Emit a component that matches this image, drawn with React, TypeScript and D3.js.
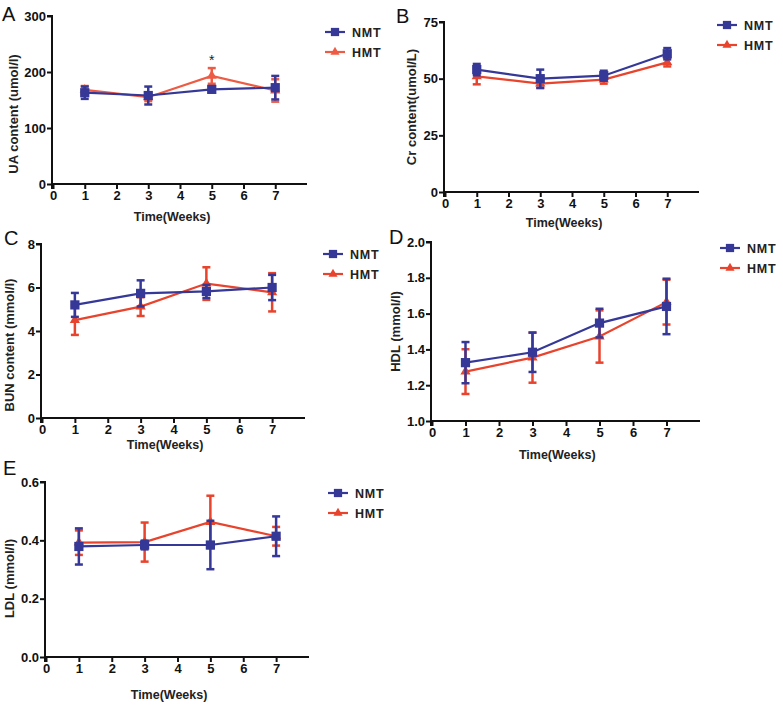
import * as React from 'react'
import * as d3 from 'd3'

// weeks sampled
const weeks = [1, 3, 5, 7]
const xTicks = [0, 1, 2, 3, 4, 5, 6, 7]

// A: uric acid
const uaNmt = [163, 158, 169, 172]
const uaNmtSd = [11, 16, 5, 21]
const uaHmt = [168, 155, 193, 167]
const uaHmtSd = [7, 7, 14, 20]
const uaTicks = [0, 100, 200, 300]

// B: creatinine
const crNmt = [54, 50, 51.3, 61]
const crNmtSd = [2.5, 4, 2.2, 2.5]
const crHmt = [51, 47.8, 49.6, 57.2]
const crHmtSd = [3.5, 2, 1.8, 1.8]
const crTicks = [0, 25, 50, 75]

// C: blood urea nitrogen
const bunNmt = [5.2, 5.73, 5.82, 6.0]
const bunNmtSd = [0.55, 0.6, 0.3, 0.58]
const bunHmt = [4.5, 5.12, 6.18, 5.78]
const bunHmtSd = [0.68, 0.43, 0.75, 0.88]
const bunTicks = [0, 2, 4, 6, 8]

// D: HDL
const hdlNmt = [1.326, 1.384, 1.547, 1.64]
const hdlNmtSd = [0.115, 0.11, 0.08, 0.155]
const hdlHmt = [1.276, 1.354, 1.472, 1.664]
const hdlHmtSd = [0.125, 0.14, 0.146, 0.125]
const hdlTicks = [1.0, 1.2, 1.4, 1.6, 1.8, 2.0]

// E: LDL
const ldlNmt = [0.379, 0.384, 0.384, 0.414]
const ldlNmtSd = [0.062, 0.015, 0.083, 0.068]
const ldlHmt = [0.392, 0.394, 0.463, 0.414]
const ldlHmtSd = [0.042, 0.067, 0.09, 0.032]
const ldlTicks = [0, 0.2, 0.4, 0.6]

const groups = ['NMT', 'HMT']
const BLUE = '#353896'
const RED = '#e8432c'

interface PanelCfg {
  letter: string
  yLabel: string
  ticks: number[]
  fmt: (v: number) => string
  nmt: number[]
  nmtSd: number[]
  hmt: number[]
  hmtSd: number[]
  x0: number
  x1: number
  yTop: number
  yBot: number
  letterX: number
  letterY: number
  yLabelX: number
  yLabelDy: number
  titleY: number
  legX: number
  legY: number
  star?: number
  redColor?: string
}

const panels: PanelCfg[] = [
  {
    letter: 'A', yLabel: 'UA content (umol/l)', ticks: uaTicks, fmt: d3.format('d'),
    nmt: uaNmt, nmtSd: uaNmtSd, hmt: uaHmt, hmtSd: uaHmtSd,
    x0: 53, x1: 307, yTop: 16, yBot: 184, letterX: 2, letterY: 21, yLabelX: 13, yLabelDy: 14, titleY: 221,
    legX: 325, legY: 32, star: 2, redColor: '#ee5b45',
  },
  {
    letter: 'B', yLabel: 'Cr content(umol/L)', ticks: crTicks, fmt: d3.format('d'),
    nmt: crNmt, nmtSd: crNmtSd, hmt: crHmt, hmtSd: crHmtSd,
    x0: 445, x1: 699, yTop: 22, yBot: 192, letterX: 396, letterY: 23, yLabelX: 411, yLabelDy: 0, titleY: 227,
    legX: 717, legY: 25,
  },
  {
    letter: 'C', yLabel: 'BUN content (mmol/l)', ticks: bunTicks, fmt: d3.format('d'),
    nmt: bunNmt, nmtSd: bunNmtSd, hmt: bunHmt, hmtSd: bunHmtSd,
    x0: 42, x1: 305, yTop: 244, yBot: 418, letterX: 4, letterY: 245, yLabelX: 9, yLabelDy: 14, titleY: 449,
    legX: 323, legY: 254,
  },
  {
    letter: 'D', yLabel: 'HDL (mmol/l)', ticks: hdlTicks, fmt: d3.format('.1f'),
    nmt: hdlNmt, nmtSd: hdlNmtSd, hmt: hdlHmt, hmtSd: hdlHmtSd,
    x0: 432, x1: 700, yTop: 242, yBot: 421, letterX: 389, letterY: 244, yLabelX: 395, yLabelDy: 0, titleY: 459,
    legX: 720, legY: 248,
  },
  {
    letter: 'E', yLabel: 'LDL (mmol/l)', ticks: ldlTicks, fmt: d3.format('.1f'),
    nmt: ldlNmt, nmtSd: ldlNmtSd, hmt: ldlHmt, hmtSd: ldlHmtSd,
    x0: 46, x1: 309, yTop: 482, yBot: 657, letterX: 3, letterY: 475, yLabelX: 9, yLabelDy: 9, titleY: 699,
    legX: 328, legY: 493,
  },
]

const FONT = '"Liberation Sans", Arial, sans-serif'

function drawPanel(svg: d3.Selection<SVGSVGElement, unknown, null, undefined>, p: PanelCfg) {
  const x = d3.scaleLinear().domain([0, 8]).range([p.x0, p.x1])
  const ext = d3.extent(p.ticks) as [number, number]
  const y = d3.scaleLinear().domain(ext).range([p.yBot, p.yTop])
  const g = svg.append('g')
  const red = p.redColor || RED

  // x axis
  const xa = g.append('g')
    .attr('transform', `translate(0,${p.yBot})`)
    .call(d3.axisBottom(x).tickValues(xTicks).tickSize(5).tickPadding(2).tickFormat(d3.format('d')))
  // y axis
  const ya = g.append('g')
    .attr('transform', `translate(${p.x0 - 1},0)`)
    .call(d3.axisLeft(y).tickValues(p.ticks).tickSize(5).tickPadding(1).tickFormat(p.fmt as any))
  for (const a of [xa, ya]) {
    a.attr('font-family', FONT).attr('font-size', 13).attr('font-weight', 'bold')
    a.select('.domain').attr('stroke', '#111').attr('stroke-width', 2)
    a.selectAll('.tick line').attr('stroke', '#111').attr('stroke-width', 2)
    a.selectAll('.tick text').attr('fill', '#111')
  }
  ya.select('.domain').attr('d', `M-5,${p.yTop}H0V${p.yBot}`)
  xa.select('.domain').attr('d', `M${p.x0 - 1},5V0H${p.x1}`)

  // labels
  g.append('text')
    .attr('x', p.letterX).attr('y', p.letterY)
    .style('font-family', FONT).style('font-size', '20px').attr('fill', '#111')
    .text(p.letter)
  g.append('text')
    .attr('x', (p.x0 + x(7)) / 2 + 8).attr('y', p.titleY)
    .attr('text-anchor', 'middle')
    .style('font-family', FONT).style('font-size', '12.5px').style('font-weight', 'bold').attr('fill', '#222')
    .text('Time(Weeks)')
  g.append('text')
    .attr('transform', `translate(${p.yLabelX},${(p.yTop + p.yBot) / 2 + p.yLabelDy}) rotate(-90)`)
    .attr('text-anchor', 'middle').attr('dy', '0.35em')
    .style('font-family', FONT).style('font-size', '13px').style('font-weight', 'bold').attr('fill', '#222')
    .text(p.yLabel)

  const series = [
    { name: groups[0], mean: p.nmt, sd: p.nmtSd, color: BLUE, shape: d3.symbolSquare, size: 85 },
    { name: groups[1], mean: p.hmt, sd: p.hmtSd, color: red, shape: d3.symbolTriangle, size: 45 },
  ]
  const line = d3.line<number>().x((_, i) => x(weeks[i])).y(d => y(d))

  // red first then blue on top
  for (const s of [series[1], series[0]]) {
    const sg = g.append('g')
    sg.append('path').datum(s.mean).attr('d', line)
      .attr('fill', 'none').attr('stroke', s.color).attr('stroke-width', 2.2)
    s.mean.forEach((m, i) => {
      const cx = x(weeks[i])
      const lo = y(m - s.sd[i])
      const hi = y(m + s.sd[i])
      sg.append('line').attr('x1', cx).attr('x2', cx).attr('y1', lo).attr('y2', hi)
        .attr('stroke', s.color).attr('stroke-width', 2.5)
      for (const yy of [lo, hi]) {
        sg.append('line').attr('x1', cx - 4).attr('x2', cx + 4).attr('y1', yy).attr('y2', yy)
          .attr('stroke', s.color).attr('stroke-width', 2.5)
      }
      sg.append('path')
        .attr('d', d3.symbol().type(s.shape).size(s.size)())
        .attr('transform', `translate(${cx},${y(m)})`)
        .attr('fill', s.color)
    })
  }

  if (p.star !== undefined) {
    const i = p.star
    g.append('text')
      .attr('x', x(weeks[i])).attr('y', y(p.hmt[i] + p.hmtSd[i]) - 3)
      .attr('text-anchor', 'middle')
      .style('font-family', FONT).style('font-size', '14px').attr('fill', '#222')
      .text('*')
  }

  // legend
  series.forEach((s, i) => {
    const ly = p.legY + i * 20
    g.append('line').attr('x1', p.legX).attr('x2', p.legX + 20).attr('y1', ly).attr('y2', ly)
      .attr('stroke', s.color).attr('stroke-width', 2.2)
    g.append('path')
      .attr('d', d3.symbol().type(s.shape).size(s.size * 0.8)())
      .attr('transform', `translate(${p.legX + 10},${ly})`)
      .attr('fill', s.color)
    g.append('text')
      .attr('x', p.legX + 27).attr('y', ly).attr('dy', '0.36em')
      .style('font-family', FONT).style('font-size', '12.5px').style('font-weight', 'bold')
      .style('letter-spacing', '0.8px').attr('fill', '#222')
      .text(s.name)
  })
}

export default function App() {
  const ref = React.useRef<SVGSVGElement | null>(null)
  React.useEffect(() => {
    if (!ref.current) return
    const svg = d3.select(ref.current)
    svg.selectAll('*').remove()
    for (const p of panels) drawPanel(svg, p)
  }, [])
  return (
    <svg ref={ref} width={783} height={706}
      style={{ position: 'absolute', left: 0, top: 0, background: '#fff' }} />
  )
}
